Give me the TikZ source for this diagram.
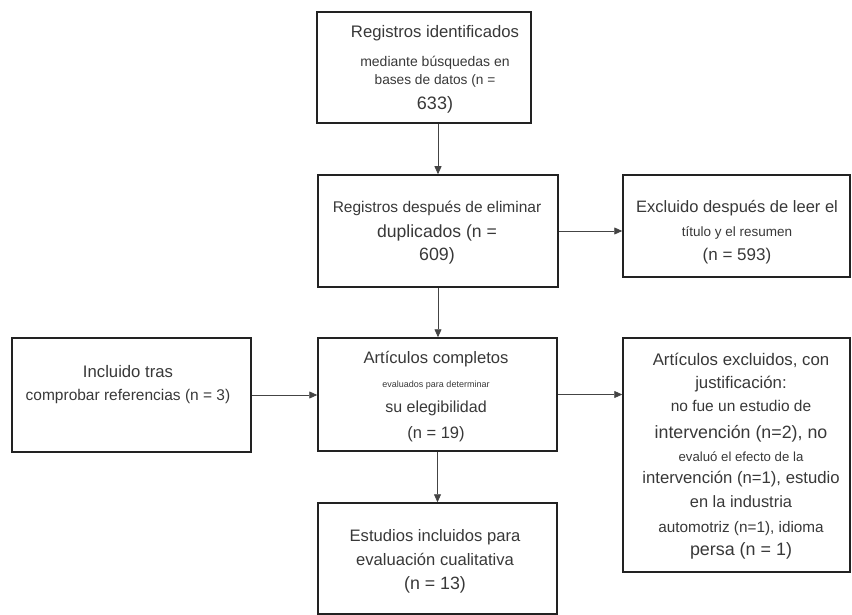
\documentclass[tikz,border=0pt]{standalone}
\usepackage{fontspec}
\setmainfont{Liberation Sans}
\usetikzlibrary{arrows.meta}
\definecolor{boxc}{HTML}{222222}
\definecolor{arrc}{HTML}{444444}
\definecolor{txtc}{HTML}{383838}
\tikzset{
 box/.style={draw=boxc, line width=1.5pt, inner sep=0pt},
 arr/.style={draw=arrc, line width=0.8pt, -{Triangle[length=8pt,width=7pt]}},
 txt/.style={text=txtc, anchor=base, inner sep=0pt},
}
\newcommand\fs[1]{\fontsize{#1}{#1}\selectfont}
\begin{document}
\begin{tikzpicture}[x=1pt,y=-1pt]
\useasboundingbox (0,0) rectangle (852,615);
% boxes
\node[box, minimum width=214pt, minimum height=111pt] (b1) at (424,67.5) {};
\node[box, minimum width=240pt, minimum height=112pt] (b2) at (438,231) {};
\node[box, minimum width=227pt, minimum height=102pt] (b3) at (736.5,226) {};
\node[box, minimum width=239pt, minimum height=114pt] (b4) at (131.5,395) {};
\node[box, minimum width=239pt, minimum height=113pt] (b5) at (437.5,394.5) {};
\node[box, minimum width=227pt, minimum height=234pt] (b6) at (736.5,455) {};
\node[box, minimum width=239pt, minimum height=111pt] (b7) at (437.5,558.5) {};
% texts box 1
\node[txt, font=\fs{16.7}] (t1a) at (435,37.5) {Registros identificados};
\node[txt, font=\fs{14}] (t1b) at (435,66.6) {mediante búsquedas en};
\node[txt, font=\fs{13.7}] (t1c) at (435,84.5) {bases de datos (n =};
\node[txt, font=\fs{18}] (t1d) at (435,109.9) {633)};
% box 2
\node[txt, font=\fs{15.5}] (t2a) at (437,212.1) {Registros después de eliminar};
\node[txt, font=\fs{17.6}] (t2b) at (437,237.8) {duplicados (n =};
\node[txt, font=\fs{17.8}] (t2c) at (437,260.9) {609)};
% box 3
\node[txt, font=\fs{16.5}] (t3a) at (737,212.4) {Excluido después de leer el};
\node[txt, font=\fs{13.5}] (t3b) at (737,236.5) {título y el resumen};
\node[txt, font=\fs{17}] (t3c) at (737,260.6) {(n = 593)};
% box 4
\node[txt, font=\fs{16.7}] (t4a) at (128,377.5) {Incluido tras};
\node[txt, font=\fs{15.5}] (t4b) at (128,400.1) {comprobar referencias (n = 3)};
% box 5
\node[txt, font=\fs{16.6}] (t5a) at (436,363.5) {Artículos completos};
\node[txt, font=\fs{9}] (t5b) at (436,387) {evaluados para determinar};
\node[txt, font=\fs{16}] (t5c) at (436,412.3) {su elegibilidad};
\node[txt, font=\fs{16.5}] (t5d) at (436,438.4) {(n = 19)};
% box 6
\node[txt, font=\fs{16.8}] (t6a) at (741,365.5) {Artículos excluidos, con};
\node[txt, font=\fs{16.8}] (t6b) at (741,388.5) {justificación:};
\node[txt, font=\fs{15.5}] (t6c) at (741,411.1) {no fue un estudio de};
\node[txt, font=\fs{17.8}] (t6d) at (741,438.9) {intervención (n=2), no};
\node[txt, font=\fs{13.2}] (t6e) at (741,461.4) {evaluó el efecto de la};
\node[txt, font=\fs{16.7}] (t6f) at (741,483.5) {intervención (n=1), estudio};
\node[txt, font=\fs{16.4}] (t6g) at (741,507.4) {en la industria};
\node[txt, font=\fs{15.3}] (t6h) at (741,532) {automotriz (n=1), idioma};
\node[txt, font=\fs{17.9}] (t6i) at (741,555.9) {persa (n = 1)};
% box 7
\node[txt, font=\fs{16.6}] (t7a) at (435,541.5) {Estudios incluidos para};
\node[txt, font=\fs{16.6}] (t7b) at (435,565.5) {evaluación cualitativa};
\node[txt, font=\fs{17.8}] (t7c) at (435,589.9) {(n = 13)};
% connectors
\draw[arr] (b1.south -| b2.north) -- (b2.north);
\draw[arr] (b2.east) -- (b2.east -| b3.west);
\draw[arr] (b2.south) -- (b2.south |- b5.north);
\draw[arr] (b4.east) -- (b4.east -| b5.west);
\draw[arr] (b5.east) -- (b5.east -| b6.west);
\draw[arr] (b5.south) -- (b5.south |- b7.north);
\end{tikzpicture}
\end{document}
